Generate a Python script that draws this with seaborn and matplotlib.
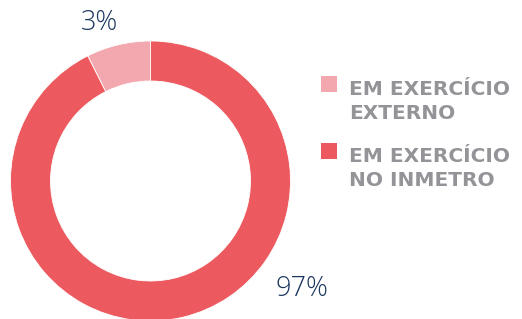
import matplotlib
matplotlib.use("Agg")
import matplotlib.pyplot as plt
import seaborn as sns
from matplotlib.patches import Rectangle

# data
categories = ["EM EXERCÍCIO\nEXTERNO", "EM EXERCÍCIO\nNO INMETRO"]
values = [7.4, 92.6]          # drawn share of the ring
value_labels = ["3%", "97%"]  # labels printed on the chart
colors = ["#F2A8AE", "#EC5A5F"]

sns.set_theme(style="white")
plt.rcParams['font.family'] = ['DejaVu Sans']

W, H = 522, 319
fig = plt.figure(figsize=(W / 100, H / 100), dpi=100)
fig.patch.set_facecolor("white")

# donut axes: center (150.5, 181) px, radius 140 px
cx, cy, R = 150.5, 181, 140
ax = fig.add_axes([(cx - R) / W, (H - cy - R) / H, 2 * R / W, 2 * R / H])
ax.pie(values, colors=colors, startangle=90, counterclock=True,
       wedgeprops=dict(width=40 / 140, edgecolor="white", linewidth=0.6))
ax.set_xlim(-1, 1)
ax.set_ylim(-1, 1)
ax.set_aspect("equal")
ax.axis("off")

def fx(x):
    return x / W

def fy(y):
    return 1 - y / H

# percentage labels
label_pos = [(99, 23), (302, 289)]
for txt, (x, y) in zip(value_labels, label_pos):
    fig.text(fx(x), fy(y), txt, ha="center", va="center", fontsize=19.5,
             color="#1B365D", family=["Open Sans", "DejaVu Sans"],
             fontweight="light", fontstyle="normal")

# legend
leg_top = [76, 143]
for cat, col, y in zip(categories, colors, leg_top):
    fig.patches.append(Rectangle((fx(321), fy(y + 16)), 16 / W, 16 / H,
                                 transform=fig.transFigure, facecolor=col,
                                 edgecolor="none"))
    fig.text(fx(349), fy(y + 43), cat, ha="left", va="baseline",
             fontsize=14.5, fontweight="bold", color="#939398",
             linespacing=1.33)

fig.savefig("out.png", dpi=100)
